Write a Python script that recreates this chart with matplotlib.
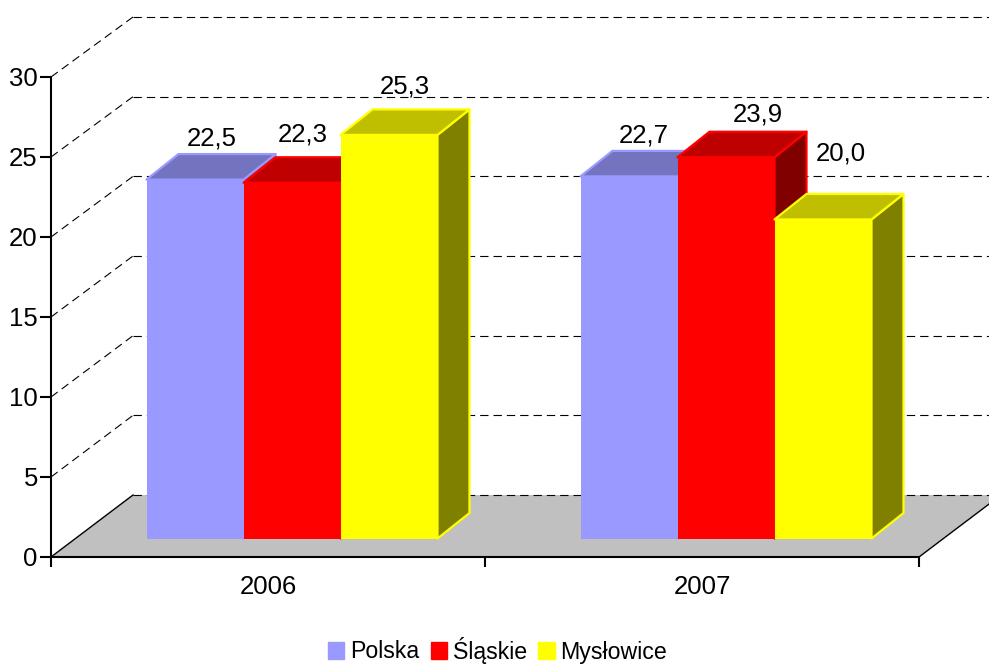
# -*- coding: utf-8 -*-
import numpy as np
import matplotlib.pyplot as plt
from matplotlib.patches import Polygon, Patch
from matplotlib.colors import to_rgb

plt.rcParams['font.family'] = ['Liberation Sans', 'DejaVu Sans']
plt.rcParams['font.size'] = 18.5

# data
years = ['2006', '2007']
polska = [22.5, 22.7]
slaskie = [22.3, 23.9]
myslowice = [25.3, 20.0]
series_names = ['Polska', 'Śląskie', 'Mysłowice']
series_colors = ['#9999FF', '#FF0000', '#FFFF00']
y_ticks = [0, 5, 10, 15, 20, 25, 30]

# label offsets from the bar's front top centre, pixels (one row per series)
label_off = [[(17, 41), (15, 41)], [(11, 48), (32, 43)], [(16, 48), (18, 66)]]

W, H = 989, 664
x0, y0 = 51, 557         # axis origin in pixels
plot_w, plot_h = 868, 480

fig = plt.figure(figsize=(W / 100, H / 100), dpi=100, facecolor='white')
ax = fig.add_axes([x0 / W, (H - y0) / H, plot_w / W, plot_h / H])
ax.set_xlim(0, 2)
ax.set_ylim(0, 30)
ax.patch.set_visible(False)

# pixel sizes converted to axis units
px = 2 / plot_w
py = 30 / plot_h
wall_dx, wall_dy = 82 * px, 62 * py     # full depth of the 3d box
bar_w = 97 * px
base_dy = 18.5 * py                     # where the bars stand on the floor
bar_dx, bar_dy = 32 * px, 25.5 * py     # depth of a bar
first_bar = 95.5 * px                   # group edge to first bar
bar_scale = 0.997


def shade(color, k):
    return tuple(c * k for c in to_rgb(color))


# floor
ax.add_patch(Polygon([(0, 0), (2, 0), (2 + wall_dx, wall_dy), (wall_dx, wall_dy)],
                     closed=True, fc='#C0C0C0', ec='none', clip_on=False, zorder=1))
ax.plot([0, wall_dx], [0, wall_dy], color='black', lw=1, clip_on=False, zorder=2)
ax.plot([2, 2 + wall_dx], [0, wall_dy], color='black', lw=1, clip_on=False, zorder=2)

# walls, dashed grid
for v in y_ticks:
    ax.plot([wall_dx, 2 + wall_dx], [v * 478 / 480 + wall_dy] * 2, color='black', lw=0.8,
            dashes=(7.5, 4.5), clip_on=False, zorder=2)
    if v > 0:
        ax.plot([0, wall_dx], [v, v * 478 / 480 + wall_dy], color='black', lw=0.8,
                dashes=(7.5, 4.5), clip_on=False, zorder=2)

# bars
z = 3
for g in range(len(years)):
    for s, vals in enumerate([polska, slaskie, myslowice]):
        col = series_colors[s]
        v = vals[g]
        l = g + first_bar + s * bar_w
        r = l + bar_w
        b = base_dy
        t = b + v * bar_scale
        side = [(r, b), (r + bar_dx, b + bar_dy), (r + bar_dx, t + bar_dy), (r, t)]
        top = [(l, t), (r, t), (r + bar_dx, t + bar_dy), (l + bar_dx, t + bar_dy)]
        front = [(l, b), (r, b), (r, t), (l, t)]
        ax.add_patch(Polygon(side, closed=True, fc=shade(col, 0.5), ec=col, lw=1.6,
                             joinstyle='round', clip_on=False, zorder=z))
        ax.add_patch(Polygon(top, closed=True, fc=shade(col, 0.75), ec=col, lw=1.6,
                             joinstyle='round', clip_on=False, zorder=z))
        ax.add_patch(Polygon(front, closed=True, fc=col, ec='none',
                             clip_on=False, zorder=z + 0.5))
        z += 1
        dx, dy = label_off[s][g]
        ax.annotate(f'{v:.1f}'.replace('.', ','), xy=((l + r) / 2, t),
                    xytext=(dx, dy), textcoords='offset pixels',
                    ha='center', va='center', fontsize=18.5, color='black',
                    annotation_clip=False, zorder=50)

# axes
for name in ['top', 'right']:
    ax.spines[name].set_visible(False)
for name in ['left', 'bottom']:
    ax.spines[name].set_linewidth(1.5)
    ax.spines[name].set_zorder(40)
ax.set_yticks(y_ticks)
ax.set_xticks([0, 1, 2])
ax.set_xticklabels([])
ax.set_xticks([0.5, 1.5], minor=True)
ax.set_xticklabels(years, minor=True)
ax.tick_params(axis='y', length=8, width=1.5, pad=1.5, labelsize=18.5)
ax.tick_params(axis='x', which='major', length=7.5, width=1.5)
ax.tick_params(axis='x', which='minor', length=0, pad=13, labelsize=18.5)

handles = [Patch(fc=c, ec=c, label=n) for c, n in zip(series_colors, series_names)]
fig.legend(handles=handles, loc='center', bbox_to_anchor=(497.5 / W, 1 - 650 / H), ncol=3,
           frameon=False, fontsize=16.7, handlelength=0.7, handleheight=0.7,
           handletextpad=0.25, columnspacing=0.5, borderpad=0, borderaxespad=0)

fig.savefig('out.png', dpi=100, facecolor='white')
plt.close(fig)
